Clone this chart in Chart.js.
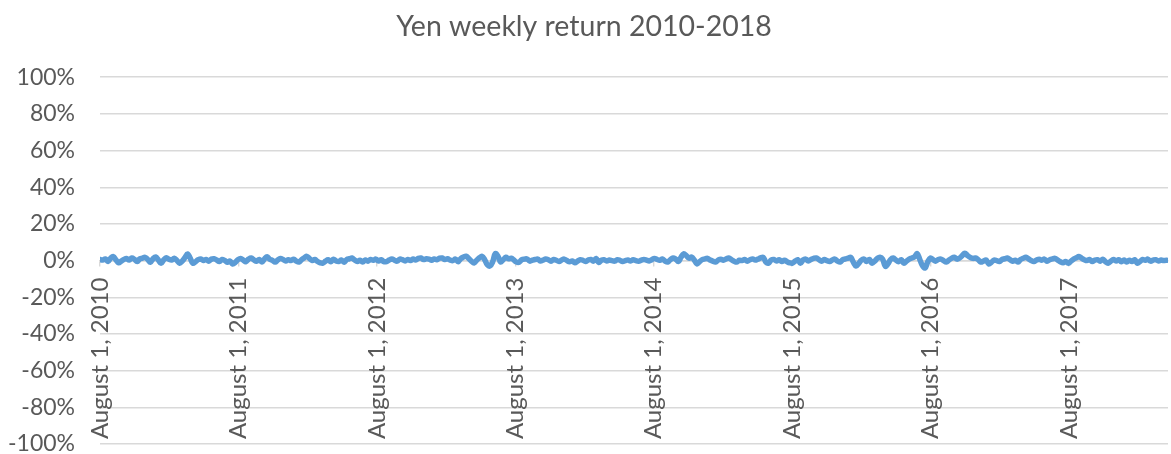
<!DOCTYPE html>
<html>
<head>
<meta charset="utf-8">
<script src="https://cdn.jsdelivr.net/npm/chart.js@4/dist/chart.umd.min.js"></script>
<style>
  html, body { margin: 0; padding: 0; background: #fff; }
  canvas { display: block; }
</style>
</head>
<body>
<canvas id="yenChart" width="1171" height="454"></canvas>
<script>
// weekly returns of the yen in %, one array per year starting Aug 1
const returns2010 = [0.6, 0.3, 0.9, -0.5, 1.3, 2.2, 0.4, -1.2, -0.3, 0.6, 1.1, 0.3, 1.4, 0.7, -0.5, 0.9, 1.3, 1.8, 0.6, -0.9, 1.0, 2.0, 0.3, -1.5, 0.4, 1.6, 0.7, 0.3, 1.3, 0.1, -1.4, -0.3, 1.6, 3.6, 1.3, -1.4, -0.6, 0.5, 0.9, 0.1, 0.6, -0.3, 0.8, 1.0, 0.3, -0.5, 0.6, 0.1, -0.9, -0.3, -1.9, -1.0];
const returns2011 = [0.5, 1.2, 0.3, -0.6, 0.8, 1.4, 0.4, -0.3, 0.6, -0.8, 0.9, 2.1, 0.7, 0.1, -0.8, 0.3, 1.2, 0.6, -0.2, 0.5, 0.0, 0.8, -0.3, -0.8, 0.5, 1.5, 2.3, 1.1, 0.0, 0.6, -0.5, -1.2, -1.4, -0.3, 0.5, -0.6, 0.8, -0.2, -0.5, 0.3, -0.9, 0.6, 1.0, 1.4, 0.3, -0.5, 0.2, -0.8, 0.3, -0.3, 0.6, 0.2];
const returns2012 = [0.8, -0.2, 0.5, -0.6, -0.5, 0.3, 0.9, 0.2, -0.3, 0.8, 0.5, -0.2, 0.6, 0.0, 0.9, 0.3, 1.2, 1.4, 0.6, 1.0, 0.8, 0.2, 0.9, 0.5, 1.3, 1.4, 0.6, 1.0, 0.3, 0.0, 0.8, -0.6, 1.1, 1.9, 2.4, 1.1, -0.3, -1.3, 0.2, 1.5, 2.3, 0.5, -2.3, -2.9, -0.7, 3.8, 2.4, -0.7, 0.5, 1.8, 1.0, 1.3];
const returns2013 = [0.3, -0.8, -0.9, 0.5, 0.8, 0.9, -0.3, 0.2, 0.6, 0.8, -0.2, 0.3, 0.9, 0.5, -0.3, 0.6, 0.2, -0.5, 0.3, 0.8, 0.0, -0.6, -0.2, -1.2, -0.3, 0.5, 0.2, -0.5, 0.3, 0.6, -0.3, 1.2, -1.0, 0.2, 0.5, -0.2, 0.3, 0.0, -0.3, 0.5, 0.2, -0.5, 0.0, 0.3, -0.2, 0.5, 0.0, -0.3, 0.2, 0.6, 0.3, -0.2];
const returns2014 = [0.5, 1.2, 0.6, 0.2, 0.9, -0.3, -0.8, 0.5, 1.4, 0.8, -0.5, 1.8, 3.7, 2.7, 1.3, 1.9, 0.3, -1.8, -0.6, 0.5, 0.9, 1.2, 0.3, -0.3, -0.8, 0.3, 0.8, 0.2, 0.9, 1.4, 0.5, -0.3, -0.8, 0.2, 0.0, 0.6, -0.3, 0.5, 0.9, 0.3, 0.8, 1.5, 1.8, -0.8, -1.4, 0.3, 0.6, -0.2, 0.5, -0.5, 0.2, -0.6];
const returns2015 = [-1.2, -1.4, -0.3, 0.5, -1.4, 0.3, 0.8, -0.2, 0.6, 1.2, 1.4, 0.5, -0.3, 0.6, 0.0, -0.5, 0.3, 0.8, -0.3, -0.8, 0.5, 0.9, 1.4, 1.8, -1.0, -3.0, -1.5, 0.3, 0.8, -0.5, 0.6, -1.4, -0.3, 1.2, 1.8, 0.8, -3.1, -1.8, 0.6, 1.4, 0.3, -0.6, 0.5, -1.4, -0.3, 0.8, 1.4, 2.0, 3.8, 0.7, -2.7, -4.0];
const returns2016 = [-0.7, 1.4, 0.5, -0.3, 0.6, 0.8, 0.0, -0.8, 0.3, 1.2, 1.8, 0.8, 1.4, 2.7, 4.0, 2.8, 1.8, 1.2, 1.4, 0.5, -0.8, -0.3, 0.3, -1.8, -0.9, 0.3, 0.0, -0.5, 0.6, 1.0, 1.4, 0.5, -0.3, 0.2, -0.8, 0.6, 1.3, 1.8, 0.9, 0.0, -0.5, 0.3, 0.8, 0.2, 0.8, -0.3, 0.5, 0.9, 1.2, 0.3, -0.6, -1.2];
const returns2017 = [-0.5, -1.4, -0.3, 0.8, 1.5, 2.2, 1.3, 0.5, 0.0, 0.6, -0.5, 0.3, 0.5, -0.3, 0.8, -0.6, -1.4, -0.3, 0.6, -0.2, 0.5, -0.6, 0.3, -0.8, 0.2, -0.5, 0.5, -1.4, -0.5, 0.6, 0.2, 0.8, -0.3, 0.3, 0.5, -0.2, 0.3, 0.0, 0.2];

const tickLabels = ['August 1, 2010', 'August 1, 2011', 'August 1, 2012', 'August 1, 2013',
                    'August 1, 2014', 'August 1, 2015', 'August 1, 2016', 'August 1, 2017'];
const yTicks = [-100, -80, -60, -40, -20, 0, 20, 40, 60, 80, 100];

// x axis is in days since the first week
const DAY = 24 * 3600 * 1000;
const start = Date.UTC(2010, 7, 1);
const tickDays = tickLabels.map(l => (Date.UTC(+l.slice(-4), 7, 1) - start) / DAY);

const allReturns = [].concat(returns2010, returns2011, returns2012, returns2013,
                             returns2014, returns2015, returns2016, returns2017);
const points = allReturns.map((v, i) => ({ x: i * 7, y: v }));

const textColor = '#595959';
const gridColor = '#d9d9d9';
const font = 'Lato';

new Chart(document.getElementById('yenChart'), {
  type: 'line',
  data: {
    datasets: [{
      data: points,
      borderColor: '#5B9BD5',
      borderWidth: 5.5,
      pointRadius: 0,
      tension: 0.4,
      borderJoinStyle: 'round',
      borderCapStyle: 'round',
      fill: false
    }]
  },
  options: {
    responsive: false,
    animation: false,
    events: [],
    layout: { padding: { top: 0, left: 0, right: 3, bottom: 10 } },
    plugins: {
      legend: { display: false },
      tooltip: { enabled: false },
      title: {
        display: true,
        text: 'Yen weekly return 2010-2018',
        color: textColor,
        font: { family: font, size: 28.5, weight: 'normal' },
        padding: { top: 10, bottom: 33 }
      }
    },
    scales: {
      y: {
        min: -100,
        max: 100,
        afterBuildTicks: axis => { axis.ticks = yTicks.map(v => ({ value: v })); },
        afterFit: axis => { axis.width = 100; axis.paddingTop = 0; axis.paddingBottom = 0; },
        ticks: {
          color: textColor,
          font: { family: font, size: 23, lineHeight: 1 },
          padding: 25,
          callback: v => v + '%'
        },
        grid: { color: gridColor, lineWidth: 1.4, drawTicks: false },
        border: { display: false }
      },
      x: {
        type: 'linear',
        position: { y: 0 },
        min: 0,
        max: 2818,
        afterBuildTicks: axis => { axis.ticks = tickDays.map(v => ({ value: v })); },
        ticks: {
          color: textColor,
          font: { family: font, size: 24, lineHeight: 1 },
          autoSkip: false,
          minRotation: 90,
          maxRotation: 90,
          padding: 12,
          callback: (v, i) => tickLabels[i]
        },
        grid: { drawOnChartArea: false, drawTicks: true, tickLength: 5, color: gridColor, lineWidth: 1.4 },
        border: { display: true, color: gridColor, width: 1.4 }
      }
    }
  }
});
</script>
</body>
</html>
